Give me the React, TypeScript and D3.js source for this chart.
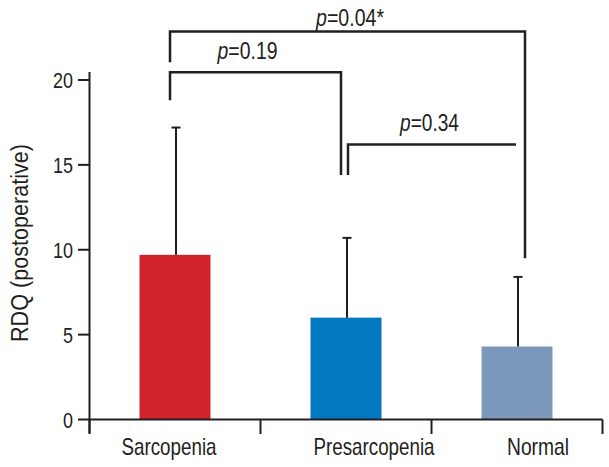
import React from "react";
import * as d3 from "d3";

const categories = ["Sarcopenia", "Presarcopenia", "Normal"];
const means = [9.7, 6.0, 4.3];
const upperErrors = [17.2, 10.7, 8.4];
const barColors = ["#cf222b", "#0078c2", "#7b97ba"];
const yTicks = [0, 5, 10, 15, 20];
const yLabel = "RDQ (postoperative)";

// brackets: from/to category index, height (data units), leg bottoms (data units), label
const bracketFrom = [0, 1, 0];
const bracketTo = [1, 2, 2];
const bracketY = [20.45, 16.2, 22.85];
const bracketLeftEnd = [18.8, 14.4, 21.05];
const bracketRightEnd = [14.4, null, 9.5];
const bracketP = ["0.19", "0.34", "0.04*"];

const W = 609;
const H = 467;
const FONT = "'Liberation Sans', Arial, sans-serif";

// approximate Arial advance widths (em)
const adv = (s: string) =>
  s.split("").reduce((a, ch) => a + (ch === "." ? 0.278 : ch === "=" ? 0.584 : ch === "*" ? 0.389 : 0.556), 0);

export default function App() {
  const x = d3.scaleBand<string>().domain(categories).range([89.5, 602.5]).padding(0);
  const y = d3.scaleLinear().domain([0, 20]).range([419.5, 80]);
  const bw = x.bandwidth();
  const barW = bw * 0.415;
  const cx = (i: number) => (x(categories[i]) as number) + bw / 2;
  const labelDx = [-6, 28, 21];
  const labelLen = [95, 121, 62];
  const bracketDxL = [-5, 2, -5];
  const bracketDxR = [-5, -1, 8];
  const textDx = [-8, -2.5, 2.5];
  const textDy = [-13, -14, -6];
  const textLen = [60, 59, 68];
  const fs = 23;

  const ink = "#231f20";

  return (
    <svg width={W} height={H} style={{ position: "absolute", left: 0, top: 0, background: "#fff" }} fontFamily={FONT}>
      {/* bars */}
      {categories.map((c, i) => (
        <rect key={c} x={cx(i) - barW / 2} y={y(means[i])} width={barW} height={y(0) - y(means[i])} fill={barColors[i]} />
      ))}
      {/* error bars */}
      {categories.map((c, i) => (
        <g key={"e" + c} stroke={ink} strokeWidth={2}>
          <line x1={cx(i) + 1} x2={cx(i) + 1} y1={y(means[i])} y2={y(upperErrors[i])} />
          <line x1={cx(i) + 1 - 4.5} x2={cx(i) + 1 + 4.5} y1={y(upperErrors[i])} y2={y(upperErrors[i])} />
        </g>
      ))}
      {/* y axis */}
      <line x1={89.5} x2={89.5} y1={y(20) - 8} y2={433} stroke={ink} strokeWidth={2} />
      {yTicks.map((t) => (
        <g key={t}>
          <line x1={78} x2={89.5} y1={y(t)} y2={y(t)} stroke={ink} strokeWidth={2} />
          <text x={73} y={y(t)} dy="0.36em" textAnchor="end" fontSize={22.5} fill={ink}
            textLength={String(t).length * 10} lengthAdjust="spacingAndGlyphs">{t}</text>
        </g>
      ))}
      {/* x axis */}
      <line x1={89.5} x2={602.5} y1={y(0)} y2={y(0)} stroke={ink} strokeWidth={2} />
      {[...categories.map((c) => x(c) as number), 602.5].map((v, i) => (
        <line key={i} x1={v} x2={v} y1={y(0)} y2={434} stroke={ink} strokeWidth={2} />
      ))}
      {categories.map((c, i) => (
        <text key={"l" + c} x={cx(i) + labelDx[i]} y={455} textAnchor="middle" fontSize={24} fill={ink}
          textLength={labelLen[i]} lengthAdjust="spacingAndGlyphs">{c}</text>
      ))}
      {/* y label */}
      <text transform={`translate(28,${243}) rotate(-90)`} textAnchor="middle" fontSize={23} fill={ink}
        textLength={198} lengthAdjust="spacingAndGlyphs">{yLabel}</text>
      {/* brackets */}
      {bracketP.map((p, k) => {
        const xl = cx(bracketFrom[k]) + bracketDxL[k];
        const xr = cx(bracketTo[k]) + bracketDxR[k];
        const yy = y(bracketY[k]);
        const re = bracketRightEnd[k];
        const d = re === null
          ? `M${xl},${y(bracketLeftEnd[k])}V${yy}H${xr}`
          : `M${xl},${y(bracketLeftEnd[k])}V${yy}H${xr}V${y(re)}`;
        const natural = (0.556 + adv("=" + p)) * fs;
        const sx = textLen[k] / natural;
        const tx = (xl + xr) / 2 + textDx[k];
        const ty = yy + textDy[k];
        return (
          <g key={"b" + k}>
            <path d={d} fill="none" stroke={ink} strokeWidth={2.5} />
            <g transform={`translate(${tx},${ty}) scale(${sx},1)`}>
              <text x={0} y={0} textAnchor="middle" fontSize={fs} fill={ink}>
                <tspan fontStyle="italic">p</tspan>={p}
              </text>
            </g>
          </g>
        );
      })}
    </svg>
  );
}
